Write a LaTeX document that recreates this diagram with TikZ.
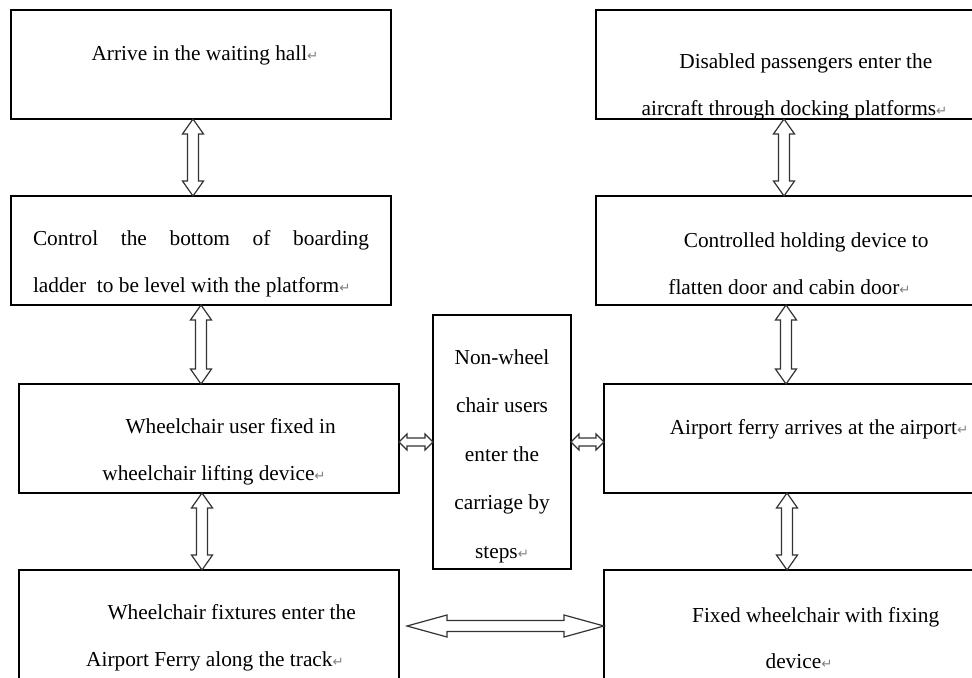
\documentclass[tikz,border=0pt]{standalone}
\usepackage{fontspec}
\setmainfont{Liberation Serif}
\newfontfamily\symfont{DejaVu Sans}
\newcommand{\retmark}{{\symfont\fontsize{10pt}{10pt}\selectfont\color{gray}↵}}
\newcommand{\ind}{\hspace*{25pt}}
\newcommand{\dblarrow}[5]
	{
	\coordinate (tempa) at (#4);
	\coordinate (tempb) at (#5);
	\coordinate (heada) at ($(tempa)!#1!(tempb)$);
	\coordinate (headb) at ($(tempb)!#1!(tempa)$);
	\draw[arrowline] (tempa) -- ($(heada)!#2!90:(tempb)$) -- ($(heada)!#3!90:(tempb)$)
		-- ($(headb)!#3!-90:(tempa)$) -- ($(headb)!#2!-90:(tempa)$) -- (tempb)
		-- ($(headb)!#2!90:(tempa)$) -- ($(headb)!#3!90:(tempa)$)
		-- ($(heada)!#3!-90:(tempb)$) -- ($(heada)!#2!-90:(tempb)$) -- cycle;
	}
\usetikzlibrary{calc,positioning}

\begin{document}
\begin{tikzpicture}[x=0.75pt,y=-0.75pt,
	box/.style={draw=black,line width=0.8pt,minimum width=285pt,minimum height=81.75pt,outer sep=0pt,inner sep=0pt},
	txt/.style={font=\fontsize{16pt}{35pt}\selectfont,align=center,inner sep=0pt},
	arrowline/.style={draw=black!80,line width=0.9pt,fill=white}]

% frame
\useasboundingbox (0,0) rectangle (972,678);
\clip (0,0) rectangle (972,678);

% left column
\node[box] (hall) at (201,64.5) {};
\node[box] (ladder) at (201,250.5) {};
\node[box] (wheel) at (209,438.5) {};
\node[box] (fixt) at (209,624.5) {};

% right column
\node[box] (board) at (786,64.5) {};
\node[box] (hold) at (786,250.5) {};
\node[box] (ferry) at (794,438.5) {};
\node[box] (fix) at (794,624.5) {};

% middle
\node[box,minimum width=103.5pt,minimum height=190.5pt] (steps) at (502,442) {};

% texts
\node[txt] (hallt) at ($(hall.north)+(4,45)$) {Arrive in the waiting hall\retmark};
\node[txt,text width=252pt,align=justify] (laddert) at ($(ladder.north)+(0,68)$)
	{Control the bottom of boarding\linebreak ladder\ \ to be level with the platform\retmark};
\node[txt] (boardt) at ($(board.north)+(8.5,77)$)
	{\hspace*{17pt}Disabled passengers enter the\\aircraft through docking platforms\retmark};
\node[txt] (holdt) at ($(hold.north)+(3.5,68)$) {\ind Controlled holding device to\\flatten door and cabin door\retmark};
\node[txt] (wheelt) at ($(wheel.north)+(5,68)$) {\ind Wheelchair user fixed in\\wheelchair lifting device\retmark};
\node[txt] (fixtt) at ($(fixt.north)+(6,68)$) {\ind Wheelchair fixtures enter the\\Airport Ferry along the track\retmark};
\node[txt] (ferryt) at ($(ferry.north)+(25,45)$) {Airport ferry arrives at the airport\retmark};
\node[txt] (fixtext) at ($(fix.north)+(5,68)$) {\ind Fixed wheelchair with fixing\\device\retmark};
\node[txt,font=\fontsize{16pt}{36.4pt}\selectfont] (stepst) at ($(steps.center)+(0,14)$)
	{Non-wheel\\chair users\\enter the\\carriage by\\steps\retmark};

% arrows
\dblarrow{11.25pt}{7.9pt}{4.1pt}{$(hall.south)+(-8,0)$}{$(ladder.north)+(-8,0)$}
\dblarrow{11.25pt}{7.9pt}{4.1pt}{ladder.south}{ladder.south |- wheel.north}
\dblarrow{11.25pt}{7.9pt}{4.1pt}{$(wheel.south)+(-7,0)$}{$(fixt.north)+(-7,0)$}
\dblarrow{11.25pt}{7.9pt}{4.1pt}{$(board.south)+(-2,0)$}{$(hold.north)+(-2,0)$}
\dblarrow{11.25pt}{7.9pt}{4.1pt}{hold.south}{hold.south |- ferry.north}
\dblarrow{11.25pt}{7.9pt}{4.1pt}{$(ferry.south)+(-7,0)$}{$(fix.north)+(-7,0)$}
\dblarrow{6pt}{6pt}{3pt}{wheel.east |- steps.west}{steps.west}
\dblarrow{6pt}{6pt}{3pt}{steps.east}{ferry.west |- steps.east}
\dblarrow{30pt}{8.25pt}{4.1pt}{$(fixt.east)+(8,1.5)$}{$(fix.west)+(0,1.5)$}

\end{tikzpicture}
\end{document}
